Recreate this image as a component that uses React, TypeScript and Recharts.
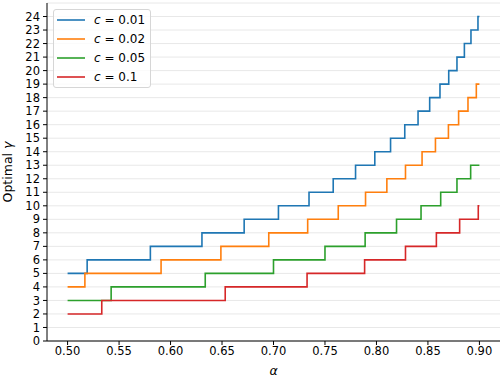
import React from 'react';
import {
  LineChart,
  Line,
  XAxis,
  YAxis,
  CartesianGrid,
} from 'recharts';

// change points (alpha, optimal gamma), last point closes the step
const seriesC001 = [
  { x: 0.5, y: 5 }, { x: 0.519, y: 6 }, { x: 0.5804, y: 7 }, { x: 0.6305, y: 8 },
  { x: 0.6715, y: 9 }, { x: 0.7048, y: 10 }, { x: 0.7345, y: 11 }, { x: 0.758, y: 12 },
  { x: 0.7797, y: 13 }, { x: 0.7984, y: 14 }, { x: 0.8137, y: 15 }, { x: 0.8275, y: 16 },
  { x: 0.8404, y: 17 }, { x: 0.8517, y: 18 }, { x: 0.8617, y: 19 }, { x: 0.8702, y: 20 },
  { x: 0.8782, y: 21 }, { x: 0.8854, y: 22 }, { x: 0.8918, y: 23 }, { x: 0.8986, y: 24 },
  { x: 0.9, y: 24 },
];
const seriesC002 = [
  { x: 0.5, y: 4 }, { x: 0.5168, y: 5 }, { x: 0.5908, y: 6 }, { x: 0.6489, y: 7 },
  { x: 0.6954, y: 8 }, { x: 0.7332, y: 9 }, { x: 0.7629, y: 10 }, { x: 0.7894, y: 11 },
  { x: 0.8101, y: 12 }, { x: 0.8282, y: 13 }, { x: 0.8443, y: 14 }, { x: 0.8573, y: 15 },
  { x: 0.8699, y: 16 }, { x: 0.8798, y: 17 }, { x: 0.8889, y: 18 }, { x: 0.897, y: 19 },
  { x: 0.9, y: 19 },
];
const seriesC005 = [
  { x: 0.5, y: 3 }, { x: 0.5423, y: 4 }, { x: 0.6337, y: 5 }, { x: 0.7, y: 6 },
  { x: 0.75, y: 7 }, { x: 0.789, y: 8 }, { x: 0.8195, y: 9 }, { x: 0.8433, y: 10 },
  { x: 0.8624, y: 11 }, { x: 0.8782, y: 12 }, { x: 0.8915, y: 13 }, { x: 0.9, y: 13 },
];
const seriesC01 = [
  { x: 0.5, y: 2 }, { x: 0.5332, y: 3 }, { x: 0.6531, y: 4 }, { x: 0.7326, y: 5 },
  { x: 0.7885, y: 6 }, { x: 0.8282, y: 7 }, { x: 0.8582, y: 8 }, { x: 0.8808, y: 9 },
  { x: 0.8989, y: 10 }, { x: 0.9, y: 10 },
];

const xTicks = [0.5, 0.55, 0.6, 0.65, 0.7, 0.75, 0.8, 0.85, 0.9];
const yTicks = Array.from({ length: 25 }, (_, i) => i);

const series = [
  { name: '0.01', data: seriesC001, color: '#1f77b4' },
  { name: '0.02', data: seriesC002, color: '#ff7f0e' },
  { name: '0.05', data: seriesC005, color: '#2ca02c' },
  { name: '0.1', data: seriesC01, color: '#d62728' },
];

const FONT = 'DejaVu Sans, sans-serif';

function LegendBox() {
  return (
    <div
      style={{
        position: 'absolute',
        left: 53,
        top: 9,
        background: 'rgba(255,255,255,0.8)',
        border: '1px solid #d6d6d6',
        borderRadius: 3,
        width: 98,
        height: 79,
        boxSizing: 'border-box',
        padding: '1px 0 0 3px',
        fontFamily: FONT,
        fontSize: 12,
        color: '#000',
      }}
    >
      {series.map((s) => (
        <div key={s.name} style={{ display: 'flex', alignItems: 'center', height: 18.8 }}>
          <svg width={28} height={4} style={{ display: 'block' }}>
            <line x1={0} y1={2} x2={28} y2={2} stroke={s.color} strokeWidth={1.6} />
          </svg>
          <span style={{ marginLeft: 9, whiteSpace: 'nowrap' }}>
            <i>c</i> = {s.name}
          </span>
        </div>
      ))}
    </div>
  );
}

function YLabel(props: any) {
  const { viewBox } = props;
  const cy = viewBox.y + viewBox.height / 2;
  return (
    <text
      x={12}
      y={cy}
      transform={`rotate(-90 12 ${cy})`}
      textAnchor="middle"
      fontFamily={FONT}
      fontSize={12.5}
      fill="#000"
    >
      Optimal <tspan fontStyle="italic">γ</tspan>
    </text>
  );
}

export default function App() {
  return (
    <div style={{ position: 'absolute', left: 0, top: 0, width: 504, height: 379, background: '#fff' }}>
      <LineChart width={504} height={379} margin={{ top: 3, right: 4, left: 7, bottom: 16 }}>
        <CartesianGrid vertical={false} stroke="#e8e8e8" strokeWidth={1} />
        <XAxis
          dataKey="x"
          type="number"
          domain={[0.48, 0.92]}
          ticks={xTicks}
          tickFormatter={(v: number) => v.toFixed(2)}
          allowDuplicatedCategory={false}
          height={22}
          tickSize={4}
          tickMargin={2}
          stroke="#000"
          tick={{ fill: '#000', fontSize: 11.5, fontFamily: FONT }}
          label={{
            value: 'α',
            position: 'insideBottom',
            offset: -12,
            fill: '#000',
            fontSize: 12.5,
            fontStyle: 'italic',
            fontFamily: FONT,
          }}
        />
        <XAxis xAxisId="top" orientation="top" type="number" domain={[0.48, 0.92]} tick={false} tickLine={false} height={0} stroke="#000" />
        <YAxis
          type="number"
          domain={[0, 25]}
          ticks={yTicks}
          interval={0}
          width={40}
          tickSize={4}
          tickMargin={3}
          stroke="#000"
          tick={{ fill: '#000', fontSize: 11.5, fontFamily: FONT }}
          label={<YLabel />}
        />
        <YAxis yAxisId="right" orientation="right" domain={[0, 25]} tick={false} tickLine={false} width={0} stroke="#000" />
        {series.map((s) => (
          <Line
            key={s.name}
            data={s.data}
            dataKey="y"
            type="stepAfter"
            stroke={s.color}
            strokeWidth={1.6}
            dot={false}
            activeDot={false}
            isAnimationActive={false}
            name={`c = ${s.name}`}
          />
        ))}
      </LineChart>
      <LegendBox />
    </div>
  );
}
